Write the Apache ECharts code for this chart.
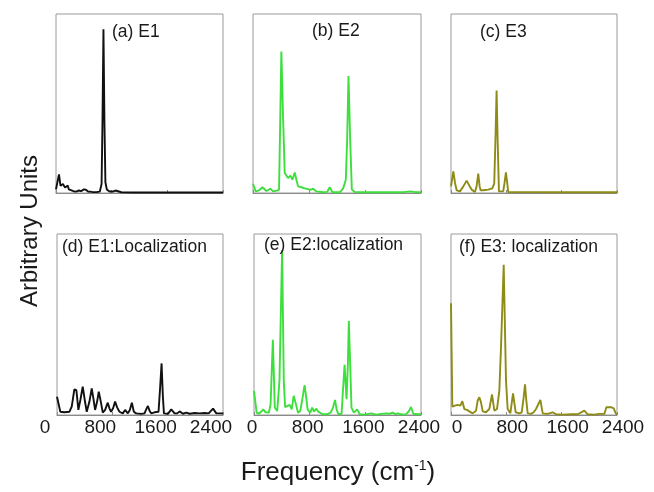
<!DOCTYPE html>
<html>
<head>
<meta charset="utf-8">
<script src="https://cdn.jsdelivr.net/npm/echarts@6/dist/echarts.min.js"></script>
<style>
  html, body { margin: 0; padding: 0; background: #fff; }
  #main { width: 654px; height: 492px; }
</style>
</head>
<body>
<div id="main"></div>
<script>
// x tick labels (cm^-1)
var freqTicks = [0, 800, 1600, 2400];

// panel titles
var panelTitles = ['(a) E1', '(b) E2', '(c) E3',
  '(d) E1:Localization', '(e) E2:localization', '(f) E3: localization'];

// spectra, [frequency, arbitrary intensity]
var e1 = [[0,0.02],[20,0.06],[43,0.104],[65,0.04],[85,0.03],[100,0.05],[130,0.03],[168,0.042],[185,0.02],[210,0.012],[250,0.01],[290,0.008],[330,0.014],[360,0.01],[400,0.02],[430,0.018],[460,0.008],[520,0.006],[580,0.005],[630,0.008],[655,0.05],[668,0.4],[682,0.915],[696,0.4],[710,0.06],[730,0.02],[770,0.008],[820,0.008],[853,0.014],[880,0.008],[940,0.004],[1100,0.003],[1400,0.003],[1800,0.003],[2100,0.003],[2400,0.003]];

var e2 = [[0,0.052],[38,0.009],[86,0.015],[134,0.032],[191,0.011],[248,0.024],[286,0.009],[343,0.013],[372,0.019],[386,0.335],[405,0.79],[429,0.43],[453,0.112],[501,0.084],[534,0.097],[563,0.074],[596,0.115],[620,0.074],[644,0.037],[692,0.032],[739,0.026],[787,0.022],[820,0.017],[859,0.024],[906,0.009],[1002,0.004],[1059,0.006],[1097,0.032],[1135,0.004],[1240,0.004],[1288,0.026],[1326,0.074],[1345,0.3],[1364,0.654],[1388,0.3],[1412,0.019],[1455,0.006],[1600,0.004],[1800,0.004],[2000,0.004],[2150,0.005],[2250,0.009],[2320,0.005],[2400,0.004]];

var e3 = [[0,0.037],[34,0.121],[58,0.056],[82,0.015],[130,0.009],[178,0.037],[226,0.069],[265,0.041],[298,0.019],[346,0.006],[370,0.037],[394,0.108],[414,0.037],[428,0.015],[467,0.015],[539,0.019],[596,0.026],[625,0.052],[645,0.335],[659,0.572],[674,0.3],[693,0.009],[755,0.009],[774,0.056],[794,0.115],[813,0.056],[827,0.006],[900,0.005],[1200,0.005],[1600,0.004],[2000,0.004],[2400,0.004]];

var e1Loc = [[0,0.101],[48,0.018],[106,0.015],[179,0.018],[213,0.046],[251,0.142],[280,0.138],[309,0.028],[338,0.083],[372,0.157],[401,0.083],[430,0.018],[469,0.074],[502,0.147],[526,0.092],[551,0.028],[580,0.074],[604,0.129],[633,0.074],[662,0.013],[696,0.028],[734,0.068],[758,0.037],[782,0.018],[811,0.037],[840,0.074],[869,0.042],[903,0.018],[951,0.009],[985,0.028],[1024,0.009],[1053,0.028],[1082,0.068],[1111,0.018],[1145,0.009],[1217,0.006],[1265,0.009],[1290,0.031],[1314,0.05],[1338,0.024],[1362,0.009],[1410,0.015],[1434,0.018],[1468,0.018],[1492,0.157],[1512,0.285],[1531,0.101],[1546,0.009],[1604,0.006],[1652,0.031],[1700,0.009],[1739,0.009],[1773,0.02],[1821,0.007],[1869,0.013],[1918,0.007],[1990,0.011],[2062,0.009],[2135,0.011],[2193,0.009],[2256,0.035],[2304,0.009],[2376,0.009],[2400,0.008]];

var e2Loc = [[0,0.133],[38,0.013],[71,0.007],[105,0.019],[133,0.031],[166,0.015],[214,0.013],[238,0.059],[271,0.415],[299,0.041],[333,0.022],[366,0.189],[404,0.911],[428,0.189],[447,0.044],[475,0.05],[513,0.056],[542,0.031],[570,0.106],[603,0.059],[632,0.013],[665,0.022],[698,0.096],[727,0.165],[751,0.096],[770,0.031],[808,0.013],[836,0.041],[865,0.019],[893,0.035],[922,0.019],[950,0.022],[988,0.004],[1045,0.004],[1102,0.013],[1135,0.041],[1164,0.083],[1188,0.031],[1211,0.004],[1259,0.007],[1278,0.133],[1302,0.278],[1330,0.087],[1349,0.281],[1363,0.519],[1382,0.281],[1401,0.041],[1435,0.013],[1482,0.031],[1520,0.004],[1591,0.002],[1686,0.009],[1758,0.002],[1829,0.006],[1900,0.009],[1948,0.007],[1995,0.013],[2033,0.004],[2066,0.009],[2114,0.004],[2176,0.002],[2223,0.019],[2256,0.044],[2290,0.007],[2351,0.004],[2400,0.004]];

var e3Loc = [[0,0.617],[19,0.046],[58,0.052],[96,0.056],[135,0.052],[164,0.076],[193,0.033],[231,0.028],[265,0.02],[313,0.009],[362,0.024],[386,0.08],[410,0.098],[434,0.07],[458,0.02],[506,0.015],[554,0.033],[593,0.113],[627,0.024],[665,0.033],[699,0.135],[723,0.376],[762,0.83],[795,0.191],[819,0.033],[858,0.009],[897,0.12],[935,0.015],[988,0.009],[1022,0.015],[1051,0.098],[1070,0.169],[1089,0.08],[1109,0.009],[1157,0.006],[1195,0.015],[1229,0.033],[1253,0.028],[1292,0.083],[1326,0.009],[1398,0.006],[1470,0.015],[1518,0.004],[1615,0.002],[1735,0.004],[1832,0.004],[1928,0.024],[1976,0.004],[2073,0.002],[2145,0.006],[2217,0.006],[2246,0.043],[2314,0.043],[2352,0.037],[2386,0.006],[2400,0.004]];

var spectra = [e1, e2, e3, e1Loc, e2Loc, e3Loc];
var colors = ['#111111', '#3ddf3d', '#8e8c16', '#111111', '#3ddf3d', '#8e8c16'];

// panel boxes: left, top, width, height
var boxes = [
  [56, 14, 167, 179], [253, 14, 168, 179], [451, 14, 166, 179],
  [57, 234, 166, 181], [254, 234, 167, 181], [451, 234, 166, 181]
];
// title anchor (left, top) per panel
var titlePos = [[112, 23], [312, 22], [480, 23], [62, 238], [264, 236], [459, 238]];
// label padding to nudge tick labels like the original
var labelPad = [[0,0,0,0], [0,0,0,0], [0,0,0,0], [0,24,0,0], [0,4,0,0], [0,0,0,12]];

var font = 'Liberation Sans, Arial, Helvetica, sans-serif';
var chart = echarts.init(document.getElementById('main'));

var grid = [], xAxis = [], yAxis = [], series = [], title = [];
for (var i = 0; i < 6; i++) {
  var b = boxes[i];
  grid.push({
    left: b[0], top: b[1], width: b[2], height: b[3],
    show: true, borderColor: '#9a9a9a', borderWidth: 1, containLabel: false
  });
  xAxis.push({
    gridIndex: i, type: 'value', min: freqTicks[0], max: freqTicks[3], interval: 800,
    axisLine: { show: true, lineStyle: { color: '#8a8a8a', width: 1 } },
    axisTick: { show: true, inside: true, length: 3, lineStyle: { color: '#8a8a8a' } },
    splitLine: { show: false },
    axisLabel: {
      show: i >= 3, fontSize: 19, color: '#1a1a1a', fontFamily: font, margin: 3,
      padding: labelPad[i],
      formatter: function (v) { return String(v); }
    }
  });
  yAxis.push({ gridIndex: i, type: 'value', min: 0, max: 1, show: false });
  series.push({
    type: 'line', xAxisIndex: i, yAxisIndex: i, data: spectra[i],
    showSymbol: false, silent: true,
    lineStyle: { color: colors[i], width: 1.9 }
  });
  title.push({
    text: panelTitles[i], left: titlePos[i][0], top: titlePos[i][1], padding: 0,
    textStyle: { fontSize: 17.5, fontWeight: 'normal', color: '#1a1a1a', fontFamily: font }
  });
}

chart.setOption({
  animation: false,
  backgroundColor: '#fff',
  title: title,
  grid: grid,
  xAxis: xAxis,
  yAxis: yAxis,
  series: series,
  graphic: [
    {
      type: 'text', x: 30, y: 231, rotation: Math.PI / 2,
      style: {
        text: 'Arbitrary Units', fontSize: 24, fill: '#1a1a1a', fontFamily: font,
        align: 'center', verticalAlign: 'middle'
      }
    },
    {
      type: 'text', x: 338, y: 473,
      style: {
        text: 'Frequency (cm{sup|-1})', fontSize: 26, fill: '#1a1a1a', fontFamily: font,
        align: 'center', verticalAlign: 'middle',
        rich: { sup: { fontSize: 14, fill: '#1a1a1a', fontFamily: font, padding: [0, 0, 14, 0] } }
      }
    }
  ]
});
</script>
</body>
</html>
